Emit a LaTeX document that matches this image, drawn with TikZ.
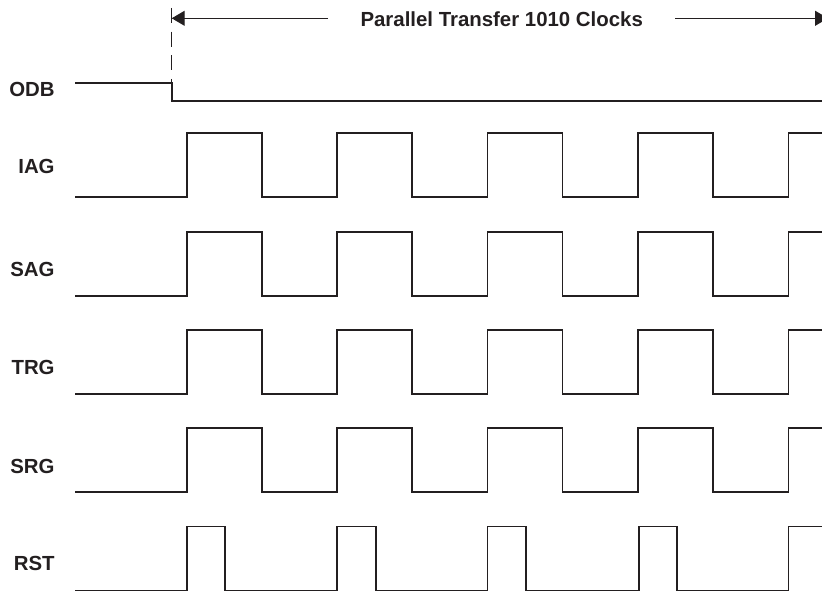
\documentclass[tikz,border=0pt]{standalone}
\usepackage{fontspec}
\setmainfont{Liberation Sans}
\usetikzlibrary{arrows.meta}
\definecolor{ink}{HTML}{231F20}
\tikzset{
  sig/.style={draw=ink, line width=0.95pt, line join=miter},
  lbl/.style={anchor=base east, inner sep=0pt, font=\fontsize{10.2}{12}\selectfont\bfseries, text=ink},
  dim/.style={draw=ink, line width=0.55pt},
  tip/.style={-{Triangle[length=6.5pt,width=7.5pt]}},
}
\begin{document}
\begin{tikzpicture}[x=0.5pt,y=-0.5pt]
\useasboundingbox (0,0) rectangle (822,593);
% labels
\node[lbl] (lODB) at (55,97) {ODB};
\node[lbl] (lIAG) at (55,174) {IAG};
\node[lbl] (lSAG) at (55,276.7) {SAG};
\node[lbl] (lTRG) at (55,374) {TRG};
\node[lbl] (lSRG) at (55,473) {SRG};
\node[lbl] (lRST) at (55,570) {RST};
% title and dimension arrow
\node[anchor=base, inner sep=0pt, font=\fontsize{10.2}{12}\selectfont\bfseries, text=ink] (title) at (501.7,26.7) {Parallel Transfer 1010 Clocks};
\coordinate (aL) at (171.7,18.3);
\coordinate (aLs) at (328,18.3);
\coordinate (aRs) at (675,18.3);
\coordinate (aR) at (828,18.3);
\draw[dim,tip] (aLs) -- (aL);
\draw[dim,tip] (aRs) -- (aR);
% dashed reference line
\coordinate (dTop) at (171.7,8);
\coordinate (dBot) at (171.7,83.3);
\draw[dim, dash pattern=on 7.5pt off 4.3pt] (dTop) -- (dBot);
% ODB
\draw[sig] (75,83.3) -| (171.7,101.3) -- (822,101.3);
% IAG, SAG, TRG, SRG
\foreach \hi in {133.3,231.6,329.9,428.2} {
  \pgfmathsetmacro{\lo}{\hi+64}
  \draw[sig] (75,\lo) -| (186.6,\hi) -| (262,\lo) -| (337,\hi) -| (412,\lo)
    -| (487.5,\hi) -| (562.5,\lo) -| (638,\hi) -| (713,\lo) -| (788.5,\hi) -- (822,\hi);
}
% RST
\draw[sig] (75,590.5) -| (186.6,526.5) -| (225,590.5) -| (337,526.5) -| (376,590.5)
  -| (487.5,526.5) -| (526,590.5) -| (639,526.5) -| (677,590.5) -| (788.5,526.5) -- (822,526.5);
\end{tikzpicture}
\end{document}
